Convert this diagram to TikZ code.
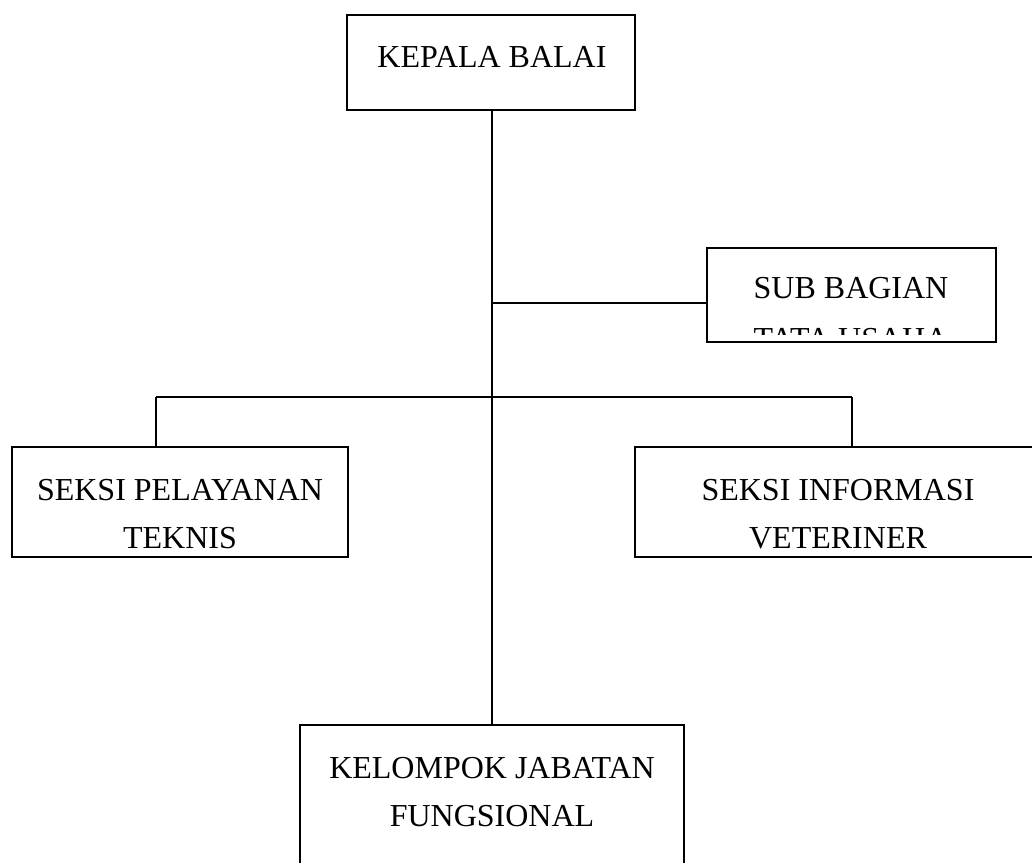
\documentclass[tikz,border=0pt]{standalone}
\usepackage{fontspec}
\setmainfont{Liberation Serif}
\begin{document}
\begin{tikzpicture}[x=1pt,y=-1pt,
  box/.style={draw=black, line width=2pt, inner sep=0pt, outer sep=0pt, rectangle},
  lbl/.style={font=\fontsize{32}{38}\selectfont, inner sep=0pt, anchor=base},
  conn/.style={draw=black, line width=2pt}]
\useasboundingbox (0,0) rectangle (1032,862);
\clip (0,0) rectangle (1032,862);
% boxes
\node[box, minimum width=288pt, minimum height=95pt] (kepala) at (491,62.5) {};
\node[box, minimum width=289pt, minimum height=94pt] (sub) at (851.5,295) {};
\node[box, minimum width=336pt, minimum height=110pt] (pel) at (180,502) {};
\node[box, minimum width=406pt, minimum height=110pt] (info) at (838,502) {};
\node[box, minimum width=384pt, minimum height=160pt] (kel) at (492,805) {};
% labels
\node[lbl] (tkepala) at (492,67) {KEPALA BALAI};
\begin{scope}
  \clip (707,248) rectangle (996,334);
  \node[lbl] (tsub1) at (851,298) {SUB BAGIAN};
  \node[lbl] (tsub2) at (851,349) {TATA USAHA};
\end{scope}
\node[lbl] (tpel1) at (180,500) {SEKSI PELAYANAN};
\node[lbl] (tpel2) at (180,548) {TEKNIS};
\node[lbl] (tinfo1) at (838,500) {SEKSI INFORMASI};
\node[lbl] (tinfo2) at (838,548) {VETERINER};
\node[lbl] (tkel1) at (492,778) {KELOMPOK JABATAN};
\node[lbl] (tkel2) at (492,826) {FUNGSIONAL};
% connectors
\coordinate (top) at (492,110);
\coordinate (jsub) at (492,303);
\coordinate (bl) at (156,397);
\coordinate (br) at (852,397);
\draw[conn] (top) -- (top |- kel.north);
\draw[conn] (jsub) -- (sub.west |- jsub);
\draw[conn] (bl) -- (br);
\draw[conn] (bl) -- (bl |- pel.north);
\draw[conn] (br) -- (br |- info.north);
\end{tikzpicture}
\end{document}
